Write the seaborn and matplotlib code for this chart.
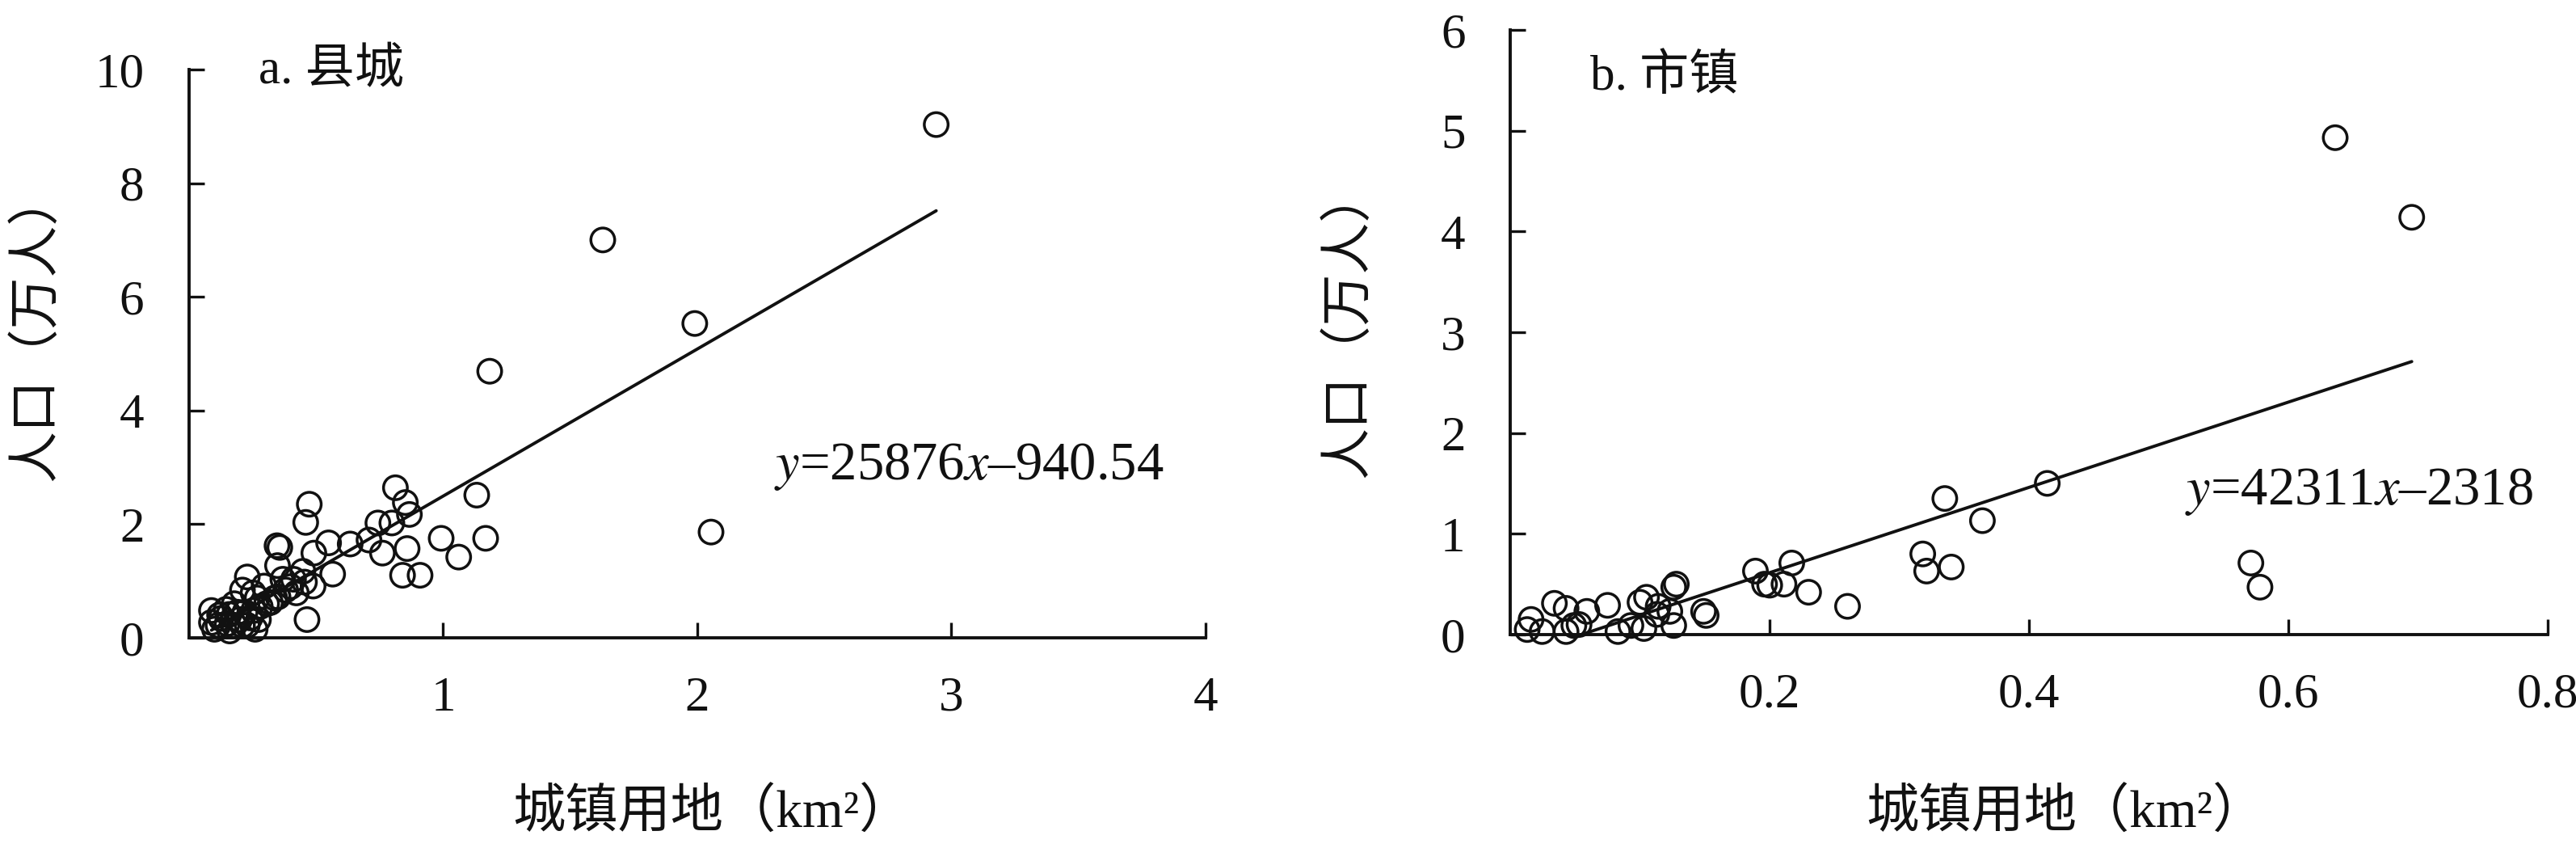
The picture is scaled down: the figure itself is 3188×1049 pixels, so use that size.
import numpy as np
import pandas as pd
import matplotlib
matplotlib.use("Agg")
import matplotlib.pyplot as plt
import seaborn as sns

# a. county towns: land (km2) vs population (10k people)
county_land = [0.812, 1.132, 0.473, 0.851, 0.867, 0.459, 0.743, 0.798, 0.992, 1.167,
               0.346, 0.357, 0.549, 0.634, 0.708, 0.491, 0.761, 0.858, 1.061, 0.348,
               0.565, 0.448, 0.840, 0.909, 0.488, 0.229, 0.295, 0.210, 0.411, 0.464,
               0.380, 0.337, 0.268, 0.178, 0.088, 0.088, 0.125, 0.157, 0.199, 0.229,
               0.273, 0.254, 0.220, 0.305, 0.422, 0.454, 0.369, 0.114, 0.178, 0.146,
               0.252, 0.210, 0.100, 0.150, 0.190, 0.240, 0.280, 0.320, 0.120, 0.160,
               0.260, 0.350, 0.400, 2.940, 1.628, 1.990, 1.183, 2.054]
county_pop = [2.64, 2.51, 2.35, 2.38, 2.17, 2.03, 2.02, 2.02, 1.75, 1.75,
              1.62, 1.59, 1.67, 1.65, 1.72, 1.49, 1.49, 1.57, 1.42, 1.27,
              1.12, 1.17, 1.10, 1.10, 0.91, 1.07, 0.91, 0.84, 1.03, 0.32,
              0.84, 0.70, 0.70, 0.60, 0.48, 0.27, 0.34, 0.41, 0.32, 0.22,
              0.32, 0.48, 0.45, 0.60, 0.79, 0.98, 1.03, 0.22, 0.22, 0.50,
              0.79, 0.22, 0.15, 0.25, 0.45, 0.35, 0.55, 0.62, 0.40, 0.12,
              0.15, 0.72, 0.90, 9.03, 7.00, 5.53, 4.69, 1.86]

# b. market towns
town_land = [0.189, 0.217, 0.196, 0.200, 0.211, 0.230, 0.260, 0.128, 0.126, 0.149,
             0.151, 0.105, 0.100, 0.114, 0.123, 0.113, 0.126, 0.103, 0.093, 0.083,
             0.075, 0.059, 0.043, 0.034, 0.049, 0.043, 0.053, 0.016, 0.013, 0.0245,
             0.335, 0.364, 0.414, 0.318, 0.321, 0.340, 0.571, 0.578, 0.636, 0.695]
town_pop = [0.63, 0.71, 0.50, 0.49, 0.50, 0.42, 0.28, 0.50, 0.47, 0.23,
            0.19, 0.37, 0.32, 0.28, 0.23, 0.20, 0.09, 0.06, 0.09, 0.03,
            0.29, 0.23, 0.26, 0.31, 0.09, 0.03, 0.10, 0.15, 0.05, 0.03,
            1.35, 1.13, 1.50, 0.80, 0.63, 0.67, 0.71, 0.47, 4.93, 4.14]

# fitted equations as printed (persons per km2 -> 10k people)
county_fit = (25876, -940.54)
town_fit = (42311, -2318)

sns.set_theme(style="ticks")
plt.rcParams["font.family"] = ["Liberation Serif", "Noto Sans CJK SC"]
plt.rcParams["mathtext.fontset"] = "stix"
plt.rcParams["axes.unicode_minus"] = False

FS = 44
ylab = "人口（万人）"
xlab = "城镇用地（km²）"

fig = plt.figure(figsize=(31.88, 10.49), dpi=100)
ax1 = fig.add_axes([0.0734, 0.2479, 0.3946, 0.6702])
ax2 = fig.add_axes([0.5863, 0.2517, 0.4028, 0.7131])


def panel(ax, xs, ys, fit, xlim, ylim, xticks, yticks, xtl, title, tpos, eq, epos, xl_pos, yl_pos):
    df = pd.DataFrame({"land": xs, "pop": ys})
    sns.scatterplot(data=df, x="land", y="pop", ax=ax, marker="o", s=450,
                    fc="none", ec="#111111", linewidth=2.5, clip_on=False, zorder=3)
    xr = np.array([min(xs), max(xs)])
    line = pd.DataFrame({"land": xr, "pop": (fit[0] * xr + fit[1]) / 10000})
    sns.lineplot(data=line, x="land", y="pop", ax=ax, color="#111111", linewidth=2.8)
    ax.set_xlim(*xlim)
    ax.set_ylim(*ylim)
    ax.set_xticks(xticks)
    ax.set_xticklabels(xtl)
    ax.set_yticks(yticks)
    ax.set_yticklabels([str(v) for v in yticks])
    for s in ["top", "right"]:
        ax.spines[s].set_visible(False)
    for s in ["left", "bottom"]:
        ax.spines[s].set_linewidth(2.8)
        ax.spines[s].set_color("#111111")
    ax.tick_params(axis="both", direction="in", length=14, width=2.4, colors="#111111",
                   labelsize=FS, labelcolor="#111111")
    ax.tick_params(axis="x", pad=34)
    ax.tick_params(axis="y", pad=40)
    ax.set_xlabel(xlab, fontsize=47, color="#111111", va="center")
    ax.set_ylabel(ylab, fontsize=46, color="#111111", va="center")
    ax.xaxis.set_label_coords(*xl_pos)
    ax.yaxis.set_label_coords(*yl_pos)
    ax.text(tpos[0], tpos[1], title, transform=ax.transAxes, fontsize=FS,
            va="center", ha="left", color="#111111")
    ax.text(epos[0], epos[1], eq, transform=ax.transAxes, fontsize=48,
            va="baseline", ha="left", color="#111111")
    ax.grid(False)


panel(ax1, county_land, county_pop, county_fit, (0, 4), (0, 10), [1, 2, 3, 4],
      [0, 2, 4, 6, 8, 10], ["1", "2", "3", "4"], "a. 县城", (0.068, 0.997),
      r"$\mathit{y}$=25876$\mathit{x}$–940.54", (0.5755, 0.279),
      (0.515, -0.309), (-0.150, 0.548))

panel(ax2, town_land, town_pop, town_fit, (0, 0.8), (0, 6), [0.2, 0.4, 0.6, 0.8],
      [0, 1, 2, 3, 4, 5, 6], ["0.2", "0.4", "0.6", "0.8"], "b. 市镇", (0.077, 0.922),
      r"$\mathit{y}$=42311$\mathit{x}$–2318", (0.650, 0.215),
      (0.535, -0.297), (-0.155, 0.515))

fig.savefig("out.png", dpi=100, facecolor="white")
